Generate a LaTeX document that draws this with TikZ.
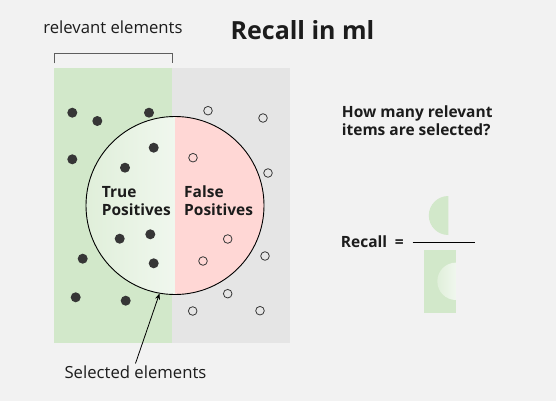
\documentclass[tikz,border=0pt]{standalone}
\usepackage{fontspec}
\setmainfont{Open Sans}
\usetikzlibrary{arrows.meta}
\definecolor{bg}{HTML}{F2F2F2}
\definecolor{relgreen}{HTML}{D2E8CA}
\definecolor{restgray}{HTML}{E5E5E5}
\definecolor{fppink}{HTML}{FFD7D5}
\definecolor{tpleft}{HTML}{E0EFDA}
\definecolor{tpright}{HTML}{F0F7EE}
\definecolor{dotc}{HTML}{363636}
\definecolor{ink}{HTML}{1C1C1C}
\begin{document}
\begin{tikzpicture}[x=1pt,y=-1pt,
  hit/.style={circle,fill=dotc,minimum size=10pt,inner sep=0pt},
  miss/.style={circle,draw=dotc,line width=0.8pt,minimum size=8.6pt,inner sep=0pt},
  lbl/.style={font=\fontsize{15.5}{18}\selectfont\bfseries,text=ink,inner sep=0pt},
  plain/.style={font=\fontsize{16.7}{20}\selectfont,text=ink,inner sep=0pt}]
\fill[bg] (0,0) rectangle (556,401);
\useasboundingbox (0,0) rectangle (556,401);
\fill[relgreen] (54,68.3) rectangle (172,343.3);
\fill[restgray] (172,68.3) rectangle (290,343.3);
\shade[left color=tpleft,right color=tpright] (175,116.5) arc (270:90:89) -- cycle;
\fill[fppink] (175,116.5) arc (-90:90:89) -- cycle;
\node[circle,draw=black,line width=0.9pt,minimum size=178pt,inner sep=0pt] (selected) at (175,205.5) {};
\foreach \x/\y [count=\i] in {72.3/112.7,97.3/121,149/112.7,72.3/159.3,153.7/147.7,125/167.7,
  119.7/238.7,150.3/234.3,82.7/258.7,153.7/263.3,75.7/297.3,125.7/300.7}
  \node[hit] (tp\i) at (\x,\y) {};
\foreach \x/\y [count=\i] in {208/110.7,263/118,193/157.7,268/173,227.7/239,
  265/256,203/261,227.7/293.7,192.7/311,260/310.7}
  \node[miss] (fp\i) at (\x,\y) {};
\node[anchor=base,font=\fontsize{25}{30}\selectfont\bfseries,text=ink] (title) at (302.5,39.3) {Recall in ml};
\node[plain,anchor=base] (relevant) at (113,33.3) {relevant elements};
\draw[line width=1pt,draw=dotc!80] (54,63.3) -- (54,54) -- (172.3,54) -- (172.3,63.3);
\node[lbl,align=left,anchor=base west] (truepos) at (101.7,215.7) {True\\Positives};
\node[lbl,align=left,anchor=base west] (falsepos) at (184,215.7) {False\\Positives};
\node[plain,anchor=base,inner sep=2pt] (sel) at (135.5,378.3) {Selected elements};
\draw[-{Stealth[length=6pt,width=5pt]},line width=0.8pt] (sel.north) -- (selected.260);
\node[lbl,align=left,anchor=base west] (question) at (341.7,135.7) {How many relevant\\items are selected?};
\node[lbl,anchor=base west] (recall) at (340.7,247.3) {Recall\enspace=};
\coordinate (barL) at (412.7,242.3);
\coordinate (barR) at (475,242.3);
\draw[line width=1pt] (barL) -- (barR);
\fill[relgreen] (448.3,196) arc (270:90:19.5) -- cycle;
\fill[relgreen] (424,250) rectangle (456,312.7);
\shade[left color=tpleft,right color=tpright] (456,262.6) arc (270:90:18.7) -- cycle;
\end{tikzpicture}
\end{document}
